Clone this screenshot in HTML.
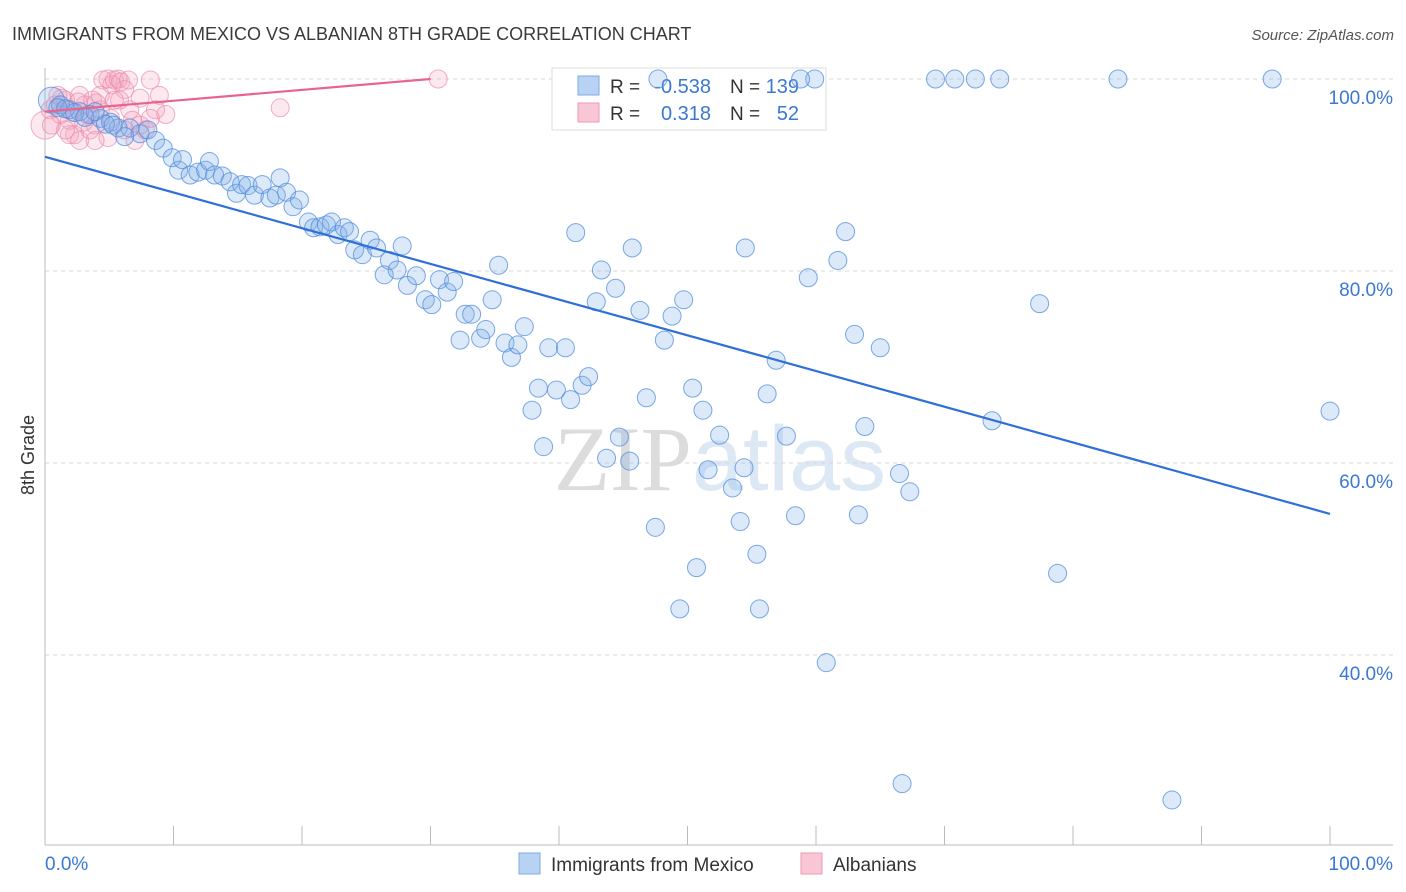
<!DOCTYPE html>
<html><head><meta charset="utf-8"><style>
body{margin:0;background:#fff;font-family:"Liberation Sans",sans-serif}
#c{position:relative;width:1406px;height:892px;overflow:hidden}
</style></head><body>
<div id="c">
<svg id="s" width="1406" height="892" xmlns="http://www.w3.org/2000/svg">
<text x="12" y="40" font-size="18" fill="#3a3a3a">IMMIGRANTS FROM MEXICO VS ALBANIAN 8TH GRADE CORRELATION CHART</text>
<text x="1394" y="40" font-size="15" fill="#555" font-style="italic" text-anchor="end">Source: ZipAtlas.com</text>
<text x="720" y="490" font-size="92" fill="#e6e6e6" text-anchor="middle" font-family="Liberation Serif,serif"><tspan fill="#dcdcdc">ZIP</tspan><tspan fill="#dde8f5" font-family="Liberation Sans,sans-serif">atlas</tspan></text>
<g id="grid"></g><g id="axes"></g>
<g>
<rect x="552" y="68" width="274" height="62" fill="#fff" stroke="#ddd"/>
<rect x="578" y="76" width="21" height="19" fill="#b8d2f4" stroke="#7fa9e3"/>
<rect x="578" y="103" width="21" height="19" fill="#f9c6d5" stroke="#ee9ab5"/>
<text x="610" y="93" font-size="19" fill="#333">R =</text><text x="711" y="93" font-size="20" fill="#3a78d4" text-anchor="end">-0.538</text>
<text x="730" y="93" font-size="19" fill="#333">N =</text><text x="799" y="93" font-size="20" fill="#3a78d4" text-anchor="end">139</text>
<text x="610" y="120" font-size="19" fill="#333">R =</text><text x="711" y="120" font-size="20" fill="#3a78d4" text-anchor="end">0.318</text>
<text x="730" y="120" font-size="19" fill="#333">N =</text><text x="799" y="120" font-size="20" fill="#3a78d4" text-anchor="end">52</text>
</g>
<g id="pts"></g><g id="lines"></g>
<text x="34" y="455" font-size="18" fill="#333" text-anchor="middle" transform="rotate(-90 34 455)">8th Grade</text>
<g>
<rect x="519" y="853" width="21" height="21" fill="#b8d2f4" stroke="#7fa9e3"/>
<text x="551" y="871" font-size="19" fill="#333">Immigrants from Mexico</text>
<rect x="801" y="853" width="21" height="21" fill="#f9c6d5" stroke="#ee9ab5"/>
<text x="833" y="871" font-size="19" fill="#333">Albanians</text>
</g>
</svg></div>
<script>
const blueX=[0.5,1.2,1.9,2.7,3.5,4.3,5.1,5.7,6.6,7.4,8.0,8.6,9.2,9.9,10.4,10.7,11.3,11.9,12.5,12.8,13.2,13.8,14.4,14.9,15.3,15.8,16.3,16.9,17.5,18.0,18.3,18.8,19.3,19.8,20.5,20.9,21.4,21.9,22.3,22.8,23.3,23.7,24.1,24.7,25.3,25.8,26.4,26.8,27.4,27.8,28.2,28.9,29.6,30.1,30.7,31.3,31.8,32.3,32.7,33.2,33.9,34.3,34.8,35.3,35.8,36.3,36.8,37.3,37.9,38.4,38.8,39.2,39.8,40.5,40.9,41.3,41.8,42.3,42.9,43.3,43.7,44.4,44.7,45.5,45.7,46.3,46.8,47.5,47.7,48.2,48.8,49.4,49.7,50.4,50.7,51.2,51.6,52.5,53.5,54.1,54.4,54.5,55.4,55.6,56.2,56.9,57.7,58.4,59.4,59.9,60.8,61.7,62.3,63.0,63.3,63.8,65.0,66.5,66.7,67.3,69.3,70.8,72.4,73.7,74.3,77.4,78.8,83.5,87.7,95.5,100,1.0,1.6,2.3,3.1,3.9,4.7,5.3,6.2,58.8];
const blueY=[97.8,97.3,96.8,96.6,96.3,95.9,95.5,94.9,94.9,94.3,94.7,93.6,92.8,91.8,90.5,91.6,90.0,90.3,90.5,91.4,90.0,89.9,89.3,88.1,89.0,88.9,87.9,89.0,87.6,87.9,89.7,88.2,86.7,87.4,85.1,84.5,84.6,84.8,85.1,83.8,84.5,84.1,82.2,81.7,83.2,82.4,79.6,81.1,80.1,82.6,78.5,79.5,77.0,76.5,79.1,77.8,78.9,72.8,75.5,75.5,73.0,73.9,77.0,80.6,72.5,71.0,72.3,74.2,65.5,67.8,61.7,72.0,67.6,72.0,66.6,84.0,68.1,69.0,76.8,80.1,60.5,78.2,62.7,60.2,82.4,75.9,66.8,53.3,100,72.8,75.3,44.8,77.0,67.8,49.1,65.5,59.3,62.9,57.4,53.9,59.5,82.4,50.5,44.8,67.2,70.7,62.8,54.5,79.3,100,39.2,81.1,84.1,73.4,54.6,63.8,72.0,58.9,26.6,57.0,100,100,100,64.4,100,76.6,48.5,100,24.9,100,65.4,97.0,96.9,96.5,96.0,96.6,95.3,95.2,94.0,100];
const pinkX=[0,0.4,0.8,1.2,1.6,1.9,2.3,2.7,3.1,3.3,3.7,3.9,4.3,4.5,4.9,5.2,5.4,5.7,5.9,6.2,6.5,6.6,7.0,7.4,7.8,8.2,8.6,8.9,9.4,18.3,30.6,1.9,2.7,3.5,4.9,5.8,4.0,1.3,0.5,1.0,3.0,6.8,2.1,2.6,5.1,6.2,7.4,4.3,5.4,8.2,1.6,3.9];
const pinkY=[95.2,96.8,97.3,96.3,97.8,95.7,94.2,98.3,97.3,96.3,97.8,95.2,96.8,99.9,100,99.4,99.9,100,99.7,98.9,99.9,96.8,93.6,98.0,94.7,99.9,96.8,98.3,96.3,97.0,100,94.2,93.6,94.7,93.9,97.8,97.5,98.0,95.2,98.3,95.5,95.7,96.6,97.6,95.9,94.7,95.2,98.3,97.8,95.9,94.7,93.6];
const blueTrend=[91.9,54.7];
const pinkTrend=[96.6,100,30];
const yTicks=[100,80,60,40];
const yTickLabels=["100.0%","80.0%","60.0%","40.0%"];
const xTicks=[0,10,20,30,40,50,60,70,80,90,100];

const NS="http://www.w3.org/2000/svg";
const X=v=>45+v*12.85, Y=v=>79+(100-v)*9.6;
function mk(tag,attrs,parent){const e=document.createElementNS(NS,tag);for(const k in attrs)e.setAttribute(k,attrs[k]);document.getElementById(parent).appendChild(e);return e;}
yTicks.forEach((t,i)=>{
 const l=mk('line',{x1:45,x2:1393,y1:Y(t),y2:Y(t),stroke:'#d8d8d8','stroke-dasharray':'4,4'},'grid');
 
 
 const tx=mk('text',{x:1393,y:Y(t)+25,'font-size':19,fill:'#3a78d4','text-anchor':'end'},'grid');
 tx.textContent=yTickLabels[i];
 
 
});
let a=mk('line',{x1:45,x2:45,y1:68,y2:845,stroke:'#bbb'},'axes');


a=mk('line',{x1:45,x2:1393,y1:845,y2:845,stroke:'#bbb'},'axes');


xTicks.forEach(t=>{const k=mk('line',{x1:X(t),x2:X(t),y1:826,y2:845,stroke:'#bbb'},'axes');
 
 });
let xl=mk('text',{x:45,y:870,'font-size':19,fill:'#3a78d4'},'axes');xl.textContent='0.0%';


xl=mk('text',{x:1393,y:870,'font-size':19,fill:'#3a78d4','text-anchor':'end'},'axes');xl.textContent='100.0%';


pinkX.forEach((x,i)=>{const c=mk('circle',{cx:X(x),cy:Y(pinkY[i]),r:i===0?14:9,fill:'rgba(244,165,192,0.25)',stroke:'rgba(236,140,172,0.7)','stroke-width':1},'pts');
 
 });
blueX.forEach((x,i)=>{const c=mk('circle',{cx:X(x),cy:Y(blueY[i]),r:i===0?13:9,fill:'rgba(130,175,235,0.28)',stroke:'rgba(80,140,220,0.75)','stroke-width':1},'pts');
 
 });
let ln=mk('line',{x1:X(0),y1:Y(blueTrend[0]),x2:X(100),y2:Y(blueTrend[1]),stroke:'#2f6fd6','stroke-width':2.2},'lines');


ln=mk('line',{x1:X(0),y1:Y(pinkTrend[0]),x2:X(pinkTrend[2]),y2:Y(pinkTrend[1]),stroke:'#e8648e','stroke-width':2.2},'lines');


</script>
</body></html>
